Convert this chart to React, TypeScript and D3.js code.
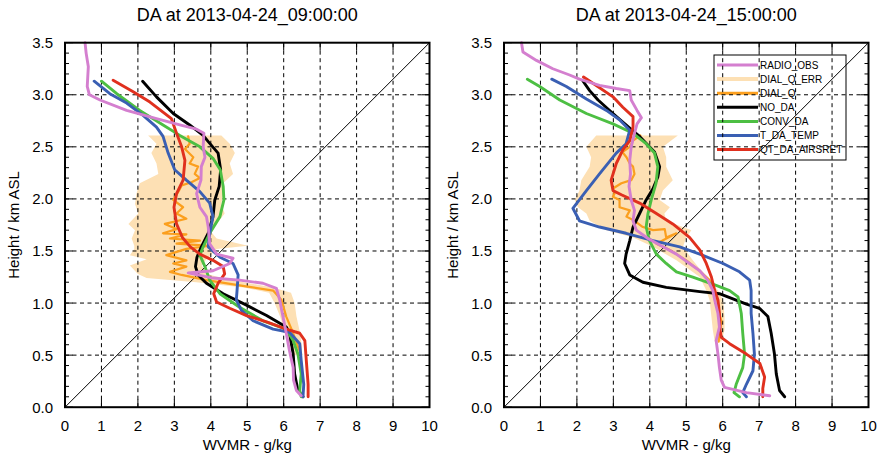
import React from 'react';
import * as d3 from 'd3';

type Pt = [number, number]; // [wvmr g/kg, height km]
type Band = [number, number, number]; // [height, x left, x right]

const xTicks = [0, 1, 2, 3, 4, 5, 6, 7, 8, 9, 10];
const yTicks = [0, 0.5, 1.0, 1.5, 2.0, 2.5, 3.0, 3.5];
const titles = ['DA at 2013-04-24_09:00:00', 'DA at 2013-04-24_15:00:00'];
const seriesNames = ['RADIO_OBS', 'DIAL_Q_ERR', 'DIAL_Q', 'NO_DA', 'CONV_DA', 'T_DA_TEMP', 'QT_DA_AIRSRET'];
const seriesColors = ['#d47fcf', '#fde0b4', '#fb9f1e', '#000000', '#4dbf43', '#3a5fb3', '#e0301e'];

// ---- 09:00 panel ----
const radio09: Pt[] = [
  [0.55, 3.5], [0.58, 3.4], [0.64, 3.27], [0.61, 3.08], [0.67, 3.0], [0.96, 2.95], [1.69, 2.85],
  [2.51, 2.77], [3.15, 2.71], [3.61, 2.67], [3.81, 2.63], [3.79, 2.5], [3.84, 2.4], [3.74, 2.31],
  [3.73, 2.18], [3.61, 2.05], [3.7, 1.92], [3.88, 1.83], [3.93, 1.73], [3.97, 1.57], [4.16, 1.47],
  [4.61, 1.43], [4.52, 1.38], [4.06, 1.31], [3.38, 1.29], [4.06, 1.24], [4.79, 1.22], [5.43, 1.19],
  [5.8, 1.14], [5.89, 1.03], [5.98, 0.87], [6.07, 0.71], [6.16, 0.54], [6.26, 0.38], [6.27, 0.26],
  [6.35, 0.16], [6.48, 0.11],
];
const noda09: Pt[] = [
  [2.13, 3.13], [2.51, 2.98], [2.97, 2.82], [3.42, 2.71], [3.79, 2.61], [3.93, 2.55], [4.2, 2.44],
  [4.27, 2.28], [4.23, 2.12], [4.11, 1.99], [4.06, 1.83], [3.93, 1.67], [3.74, 1.54], [3.62, 1.44],
  [3.58, 1.35], [3.65, 1.27], [3.88, 1.19], [4.34, 1.09], [4.98, 0.98], [5.53, 0.88], [6.07, 0.77],
  [6.16, 0.71], [6.26, 0.51], [6.3, 0.32], [6.39, 0.16], [6.53, 0.1],
];
const conv09: Pt[] = [
  [1.0, 3.13], [1.42, 3.01], [2.05, 2.85], [2.69, 2.71], [3.15, 2.61], [3.7, 2.5], [4.06, 2.39],
  [4.26, 2.28], [4.34, 2.12], [4.36, 1.99], [4.25, 1.83], [3.97, 1.67], [3.79, 1.54], [3.7, 1.46],
  [3.84, 1.35], [3.97, 1.22], [4.25, 1.09], [4.79, 0.96], [5.43, 0.83], [6.07, 0.75], [6.26, 0.64],
  [6.39, 0.51], [6.48, 0.32], [6.44, 0.16], [6.48, 0.1],
];
const temp09: Pt[] = [
  [0.8, 3.13], [1.23, 3.01], [1.69, 2.92], [2.15, 2.8], [2.51, 2.69], [2.69, 2.6], [2.83, 2.44],
  [3.01, 2.28], [3.33, 2.18], [3.7, 2.07], [3.97, 1.96], [4.06, 1.83], [3.97, 1.67], [3.93, 1.54],
  [4.25, 1.44], [4.61, 1.38], [4.75, 1.27], [4.72, 1.12], [4.7, 1.03], [4.84, 0.93], [5.16, 0.83],
  [5.71, 0.75], [6.16, 0.72], [6.44, 0.61], [6.48, 0.45], [6.55, 0.22], [6.53, 0.1],
];
const airs09: Pt[] = [
  [1.32, 3.14], [1.87, 3.03], [2.33, 2.93], [2.92, 2.77], [3.06, 2.63], [3.2, 2.5], [3.29, 2.37],
  [3.24, 2.18], [3.06, 2.05], [2.99, 1.92], [3.06, 1.76], [3.22, 1.63], [3.44, 1.54], [3.7, 1.47],
  [4.06, 1.41], [4.34, 1.35], [4.38, 1.28], [4.2, 1.19], [4.08, 1.09], [4.16, 1.01], [4.52, 0.95],
  [4.98, 0.88], [5.53, 0.82], [6.07, 0.75], [6.44, 0.71], [6.58, 0.64], [6.62, 0.45], [6.67, 0.22],
  [6.67, 0.1],
];
const dial09: Pt[] = [
  [3.38, 2.6], [3.42, 2.53], [3.29, 2.48], [3.52, 2.4], [3.42, 2.34], [3.65, 2.31], [3.56, 2.24],
  [3.7, 2.2], [3.47, 2.16], [3.2, 2.13], [3.11, 2.07], [2.97, 1.99], [3.24, 1.92], [3.06, 1.86],
  [3.33, 1.81], [2.74, 1.76], [3.06, 1.71], [2.69, 1.67], [3.33, 1.66], [2.88, 1.62], [3.7, 1.6],
  [3.06, 1.57], [3.97, 1.55], [3.33, 1.52], [2.78, 1.46], [3.33, 1.41], [2.97, 1.38], [3.33, 1.35],
  [2.88, 1.3], [3.2, 1.27], [3.88, 1.22], [4.79, 1.17], [5.71, 1.12], [5.94, 1.03], [6.07, 0.87],
  [6.26, 0.71], [6.39, 0.58], [6.48, 0.51],
];
const dialErr09: Band[] = [
  [2.61, 2.28, 4.29], [2.53, 2.51, 4.52], [2.44, 2.37, 4.66], [2.34, 2.51, 4.52], [2.24, 2.56, 4.61],
  [2.15, 2.05, 4.34], [2.05, 1.96, 4.34], [1.95, 1.92, 4.29], [1.86, 2.01, 4.38], [1.76, 1.74, 4.16],
  [1.70, 1.92, 3.97], [1.62, 1.83, 4.16], [1.55, 1.9, 5.02], [1.52, 1.9, 4.16], [1.46, 1.78, 4.0],
  [1.42, 2.24, 3.88], [1.36, 1.78, 3.75], [1.28, 2.0, 3.9], [1.24, 2.24, 4.3], [1.2, 3.6, 4.9],
  [1.15, 4.9, 5.7], [1.1, 5.6, 6.2], [1.0, 5.75, 6.3], [0.87, 5.9, 6.35], [0.71, 6.05, 6.45],
  [0.58, 6.2, 6.5], [0.5, 6.3, 6.5],
];

// ---- 15:00 panel ----
const radio15: Pt[] = [
  [0.48, 3.5], [0.52, 3.41], [0.89, 3.33], [1.34, 3.25], [1.8, 3.19], [2.07, 3.15], [2.62, 3.09],
  [3.08, 3.06], [3.45, 3.04], [3.49, 2.95], [3.65, 2.85], [3.77, 2.78], [3.65, 2.72], [3.58, 2.63],
  [3.49, 2.5], [3.45, 2.37], [3.47, 2.24], [3.43, 2.12], [3.49, 1.99], [3.58, 1.89], [3.54, 1.79],
  [3.63, 1.7], [3.95, 1.62], [4.36, 1.54], [4.73, 1.47], [5.09, 1.38], [5.37, 1.31], [5.59, 1.22],
  [5.73, 1.12], [5.78, 1.03], [5.87, 0.9], [5.91, 0.77], [5.82, 0.64], [5.87, 0.51], [5.91, 0.38],
  [5.96, 0.26], [6.05, 0.19], [6.65, 0.14], [7.29, 0.11],
];
const noda15: Pt[] = [
  [2.17, 3.13], [2.35, 3.04], [2.58, 2.95], [2.99, 2.82], [3.45, 2.68], [3.72, 2.6], [4.13, 2.45],
  [4.27, 2.31], [4.22, 2.21], [4.09, 2.1], [3.9, 1.99], [3.72, 1.86], [3.54, 1.73], [3.45, 1.6],
  [3.35, 1.47], [3.31, 1.38], [3.45, 1.27], [3.81, 1.2], [4.45, 1.15], [5.37, 1.11], [5.91, 1.09],
  [6.28, 1.04], [6.65, 0.99], [7.01, 0.95], [7.24, 0.87], [7.33, 0.71], [7.42, 0.51], [7.47, 0.32],
  [7.56, 0.16], [7.7, 0.1],
];
const conv15: Pt[] = [
  [0.64, 3.15], [0.98, 3.08], [1.53, 2.95], [2.26, 2.82], [2.99, 2.72], [3.54, 2.63], [3.9, 2.53],
  [4.13, 2.44], [4.22, 2.31], [4.17, 2.15], [4.04, 1.99], [3.95, 1.86], [3.9, 1.73], [3.99, 1.6],
  [4.18, 1.47], [4.45, 1.38], [4.73, 1.3], [5.18, 1.25], [5.82, 1.17], [6.19, 1.12], [6.42, 1.06],
  [6.51, 0.9], [6.55, 0.71], [6.6, 0.51], [6.55, 0.38], [6.37, 0.22], [6.31, 0.14], [6.46, 0.1],
];
const temp15: Pt[] = [
  [1.31, 3.15], [1.71, 3.08], [2.26, 2.96], [2.81, 2.85], [3.17, 2.76], [3.45, 2.66], [3.35, 2.53],
  [3.08, 2.44], [2.62, 2.24], [2.26, 2.08], [1.89, 1.91], [2.07, 1.79], [2.62, 1.73], [3.35, 1.67],
  [4.09, 1.6], [4.82, 1.54], [5.37, 1.47], [6.01, 1.38], [6.46, 1.3], [6.74, 1.22], [6.78, 1.12],
  [6.78, 0.9], [6.83, 0.71], [6.87, 0.51], [6.83, 0.35], [6.65, 0.22], [6.55, 0.14], [6.65, 0.1],
];
const airs15: Pt[] = [
  [2.18, 3.17], [2.44, 3.11], [2.99, 2.98], [3.26, 2.88], [3.54, 2.79], [3.54, 2.69], [3.45, 2.56],
  [3.26, 2.47], [3.08, 2.34], [2.94, 2.18], [2.99, 2.08], [3.22, 2.04], [3.72, 1.96], [4.18, 1.86],
  [4.63, 1.76], [5.09, 1.63], [5.37, 1.51], [5.55, 1.38], [5.69, 1.25], [5.78, 1.12], [5.87, 1.03],
  [5.91, 0.9], [5.93, 0.74], [5.96, 0.67], [6.19, 0.61], [6.65, 0.51], [7.02, 0.42], [7.15, 0.29],
  [7.1, 0.18], [7.1, 0.1],
];
const dial15: Pt[] = [
  [3.74, 2.61], [3.54, 2.56], [3.45, 2.5], [3.25, 2.45], [3.36, 2.4], [3.45, 2.34], [3.54, 2.31],
  [3.58, 2.24], [3.49, 2.18], [3.22, 2.15], [2.99, 2.1], [3.03, 2.05], [2.99, 2.02], [3.17, 1.99],
  [3.17, 1.92], [3.45, 1.89], [3.36, 1.83], [3.58, 1.79], [3.81, 1.73], [4.09, 1.7], [4.41, 1.71],
  [4.45, 1.63], [4.73, 1.67], [4.18, 1.57], [4.55, 1.51], [5.0, 1.41], [5.37, 1.31], [5.64, 1.22],
  [5.73, 1.12], [5.82, 1.03], [5.96, 0.83], [5.91, 0.71], [5.89, 0.63],
];
const dialErr15: Band[] = [
  [2.61, 2.53, 4.77], [2.5, 2.26, 4.36], [2.4, 2.39, 4.45], [2.31, 2.35, 4.45], [2.18, 2.12, 4.63],
  [2.08, 2.07, 4.36], [1.99, 1.94, 4.27], [1.92, 2.03, 4.55], [1.86, 2.26, 4.4], [1.79, 2.35, 4.45],
  [1.7, 2.81, 5.14], [1.63, 3.54, 5.0], [1.54, 4.09, 4.91], [1.41, 4.73, 5.18], [1.25, 5.37, 5.55],
  [1.12, 5.55, 5.87], [1.03, 5.64, 6.01], [0.87, 5.69, 6.05], [0.74, 5.73, 6.05], [0.63, 5.78, 5.96],
];

const panels = [
  { left: 65, title: titles[0], lines: [dial09, noda09, conv09, temp09, airs09, radio09], band: dialErr09, legend: false },
  { left: 504, title: titles[1], lines: [dial15, noda15, conv15, temp15, airs15, radio15], band: dialErr15, legend: true },
];
const lineColors = [seriesColors[2], seriesColors[3], seriesColors[4], seriesColors[5], seriesColors[6], seriesColors[0]];

const top = 42.7;
const size = 364.5;
const font = 'Liberation Sans, Arial, Helvetica, sans-serif';

function Panel({ p }: { p: typeof panels[number] }) {
  const x = d3.scaleLinear().domain([0, 10]).range([p.left, p.left + size]);
  const y = d3.scaleLinear().domain([0, 3.5]).range([top + size, top]);
  const line = d3.line<Pt>().x(d => x(d[0])).y(d => y(d[1]));
  const area = d3.area<Band>().y(d => y(d[0])).x0(d => x(d[1])).x1(d => x(d[2]));
  const minor = d3.range(0, 3.501, 0.1);
  const x0 = x(0), x1 = x(10), y0 = y(0), y1 = y(3.5);
  const cx = (x0 + x1) / 2;

  return (
    <g>
      <text x={cx} y={21} textAnchor="middle" fontSize={18} fontFamily={font}>{p.title}</text>
      <path d={area(p.band) || ''} fill={seriesColors[1]} />
      {p.legend && (
        <g fontFamily={font} fontSize={10}>
          <rect x={714} y={55} width={132} height={105} fill="none" stroke="#000" strokeWidth={1} />
          {seriesNames.map((n, i) => (
            <g key={n}>
              <line x1={717} x2={758} y1={65 + i * 14.1} y2={65 + i * 14.1} stroke={seriesColors[i]} strokeWidth={i === 1 ? 4 : 3} />
              <text x={760} y={65 + i * 14.1 + 3.6}>{n}</text>
            </g>
          ))}
        </g>
      )}
      {xTicks.slice(1, -1).map(t => (
        <line key={'gx' + t} x1={x(t)} x2={x(t)} y1={y0} y2={y1} stroke="#000" strokeWidth={1} strokeDasharray="4 3.5" />
      ))}
      {yTicks.slice(1, -1).map(t => (
        <line key={'gy' + t} x1={x0} x2={x1} y1={y(t)} y2={y(t)} stroke="#000" strokeWidth={1} strokeDasharray="4 3.5" />
      ))}
      <line x1={x(0)} y1={y(0)} x2={x(10)} y2={y(3.5)} stroke="#000" strokeWidth={1} />
      {p.lines.map((l, i) => (
        <path key={i} d={line(l) || ''} fill="none" stroke={lineColors[i]} strokeWidth={i === 0 ? 2.2 : 2.9} strokeLinejoin="round" strokeLinecap="round" />
      ))}
      {minor.map((t, i) => (
        <g key={'m' + i} stroke="#000" strokeWidth={1}>
          <line x1={x0} x2={x0 + (i % 5 === 0 ? 8 : 4)} y1={y(t)} y2={y(t)} />
          <line x1={x1} x2={x1 - (i % 5 === 0 ? 8 : 4)} y1={y(t)} y2={y(t)} />
        </g>
      ))}
      {xTicks.map(t => (
        <g key={'xt' + t} stroke="#000" strokeWidth={1}>
          <line x1={x(t)} x2={x(t)} y1={y0} y2={y0 - 8} />
          <line x1={x(t)} x2={x(t)} y1={y1} y2={y1 + 8} />
        </g>
      ))}
      <rect x={x0} y={y1} width={x1 - x0} height={y0 - y1} fill="none" stroke="#000" strokeWidth={2} />
      <g fontFamily={font} fontSize={15}>
        {xTicks.map(t => (
          <text key={'xl' + t} x={x(t)} y={y0 + 24} textAnchor="middle">{t}</text>
        ))}
        {yTicks.map(t => (
          <text key={'yl' + t} x={x0 - 12} y={y(t) + 5.5} textAnchor="end">{t.toFixed(1)}</text>
        ))}
        <text x={cx} y={450} textAnchor="middle">WVMR - g/kg</text>
        <text transform={`translate(${x0 - 46},${(y0 + y1) / 2}) rotate(-90)`} textAnchor="middle">Height / km ASL</text>
      </g>
    </g>
  );
}

export default function App() {
  return (
    <svg width={883} height={459} style={{ position: 'absolute', left: 0, top: 0, background: '#fff' }}>
      <rect width={883} height={459} fill="#fff" />
      {panels.map((p, i) => <Panel key={i} p={p} />)}
    </svg>
  );
}
